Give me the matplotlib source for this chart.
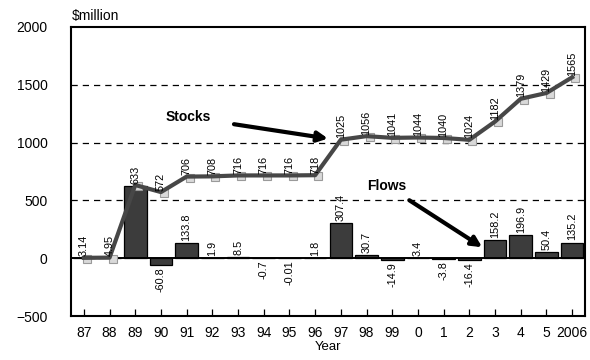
import numpy as np
import matplotlib.pyplot as plt

plt.rcParams['font.family'] = ['Liberation Sans', 'DejaVu Sans']

years = ['87', '88', '89', '90', '91', '92', '93', '94', '95', '96',
         '97', '98', '99', '0', '1', '2', '3', '4', '5', '2006']
stocks = [3.14, 4.95, 633, 572, 706, 708, 716, 716, 716, 718,
          1025, 1056, 1041, 1044, 1040, 1024, 1182, 1379, 1429, 1565]
flows = [0, 1.81, 628, -60.8, 133.8, 1.9, 8.5, -0.7, -0.01, 1.8,
         307.4, 30.7, -14.9, 3.4, -3.8, -16.4, 158.2, 196.9, 50.4, 135.2]
# flow labels shown from 1990 onward
flow_labels = [None, None, None, '-60.8', '133.8', '1.9', '8.5', '-0.7', '-0.01', '1.8',
               '307.4', '30.7', '-14.9', '3.4', '-3.8', '-16.4', '158.2', '196.9', '50.4', '135.2']
stock_labels = ['3.14', '4.95', '633', '572', '706', '708', '716', '716', '716', '718',
                '1025', '1056', '1041', '1044', '1040', '1024', '1182', '1379', '1429', '1565']

x = np.arange(len(years))

fig = plt.figure(figsize=(5.9, 3.6), dpi=100)
ax = fig.add_axes([71 / 590, 1 - 316 / 360, (585 - 71) / 590, (316 - 27) / 360])

for y in [500, 1000, 1500]:
    ax.axhline(y, color='black', lw=0.9, ls=(0, (5, 4)), zorder=0)

ax.bar(x, flows, width=0.88, color='#3c3c3c', edgecolor='black', lw=0.9, zorder=2)
ax.axhline(0, color='black', lw=1.4, zorder=3)

# stock markers sit just under the line
ax.plot(x + 0.12, np.array(stocks) - 8, ls='none', marker='s', ms=6,
        mfc='#d9d9d9', mec='#9a9a9a', mew=0.8, zorder=3)
ax.plot(x, stocks, color='#474747', lw=3, zorder=4, solid_joinstyle='round')

for xi, v, lab in zip(x, stocks, stock_labels):
    ax.text(xi, v + 12, lab, rotation=90, ha='center', va='bottom', fontsize=7.8, zorder=5)

for xi, v, lab in zip(x, flows, flow_labels):
    if lab is None:
        continue
    if v >= 0:
        ax.text(xi, v + 18, lab, rotation=90, ha='center', va='bottom', fontsize=7.8, zorder=5)
    else:
        ax.text(xi, v - 18, lab, rotation=90, ha='center', va='top', fontsize=7.8, zorder=5)

ax.annotate('Stocks', xy=(9.5, 1035), xytext=(4.05, 1220), ha='center', va='center',
            fontsize=10, fontweight='bold',
            arrowprops=dict(arrowstyle='-|>', color='black', lw=3, mutation_scale=15,
                            shrinkA=15, shrinkB=0))
ax.annotate('Flows', xy=(15.5, 95), xytext=(11.8, 625), ha='center', va='center',
            fontsize=10, fontweight='bold',
            arrowprops=dict(arrowstyle='-|>', color='black', lw=3, mutation_scale=15,
                            shrinkA=6, shrinkB=0))

ax.set_xlim(-0.5, len(years) - 0.5)
ax.set_ylim(-500, 2000)
ax.set_yticks([-500, 0, 500, 1000, 1500, 2000])
ax.set_xticks(x)
ax.set_xticklabels(years)
ax.tick_params(axis='y', length=0, labelsize=10, pad=17)
ax.tick_params(axis='x', direction='in', length=5, labelsize=10, pad=7, width=0.9)
for s in ax.spines.values():
    s.set_linewidth(1.5)

ax.set_xlabel('Year', fontsize=9.5, labelpad=1)
fig.text(72 / 590, 1 - 16 / 360, '$million', fontsize=10, ha='left', va='center')

fig.savefig('out.png', dpi=100)
